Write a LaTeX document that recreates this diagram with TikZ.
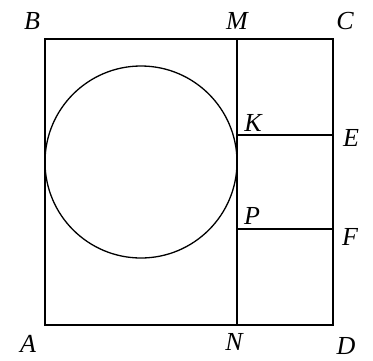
\documentclass[tikz,border=0pt]{standalone}
\usepackage{fontspec}
\setmainfont{Liberation Serif}
\newfontfamily\labfont{Liberation Serif}
\begin{document}
\begin{tikzpicture}[x=1pt,y=-1pt,
  edge/.style={line width=1.3pt},
  lab/.style={font=\labfont\itshape\fontsize{26pt}{28pt}\selectfont, inner sep=0pt}]
\useasboundingbox (0,0) rectangle (373,360);
\coordinate (A) at (45,325);
\coordinate (B) at (45,39);
\coordinate (C) at (333,39);
\coordinate (D) at (333,325);
\coordinate (M) at (237,39);
\coordinate (N) at (237,325);
\coordinate (K) at (237,135);
\coordinate (E) at (333,135);
\coordinate (P) at (237,229);
\coordinate (F) at (333,229);
\coordinate (O) at (141,162);
\draw[edge] (A) -- (B) -- (C) -- (D) -- cycle;
\draw[edge] (M) -- (N);
\draw[edge] (K) -- (E);
\draw[edge] (P) -- (F);
\draw[edge] (O) circle[radius=96];
\node[lab] (lB) at (32,21) {B};
\node[lab] (lM) at (237,21) {M};
\node[lab] (lC) at (345,21) {C};
\node[lab] (lK) at (253,123) {K};
\node[lab] (lE) at (351,138) {E};
\node[lab] (lP) at (252,216) {P};
\node[lab] (lF) at (350,237) {F};
\node[lab] (lA) at (28,344) {A};
\node[lab] (lN) at (234,342) {N};
\node[lab] (lD) at (346,346) {D};
\end{tikzpicture}
\end{document}
